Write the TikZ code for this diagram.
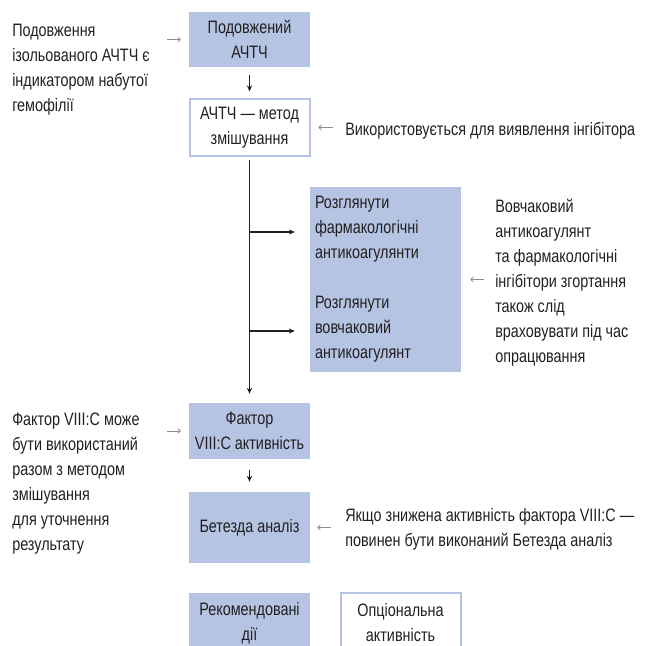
\documentclass[tikz,border=0pt]{standalone}
\usepackage{fontspec}
\setmainfont{Liberation Sans}[FakeStretch=0.8]
\usetikzlibrary{arrows.meta,calc}
\definecolor{boxblue}{RGB}{180,196,226}
\definecolor{txt}{RGB}{35,31,32}
\definecolor{garr}{RGB}{140,140,140}
\begin{document}
\begin{tikzpicture}[x=0.75pt,y=-0.75pt,
  every node/.style={font=\fontsize{13.5}{18.75}\selectfont, text=txt, inner sep=0pt},
  bluebox/.style={fill=boxblue, minimum width=121*0.75pt, align=center},
  whitebox/.style={draw=boxblue, line width=1.5pt, fill=white, align=center, minimum width=120*0.75pt},
  note/.style={align=left, anchor=north west},
  flow/.style={draw=txt, line width=1pt, -{Stealth[length=4.5pt,width=4pt]}},
  side/.style={draw=garr, line width=0.6pt, -{To[length=2.5pt,width=4pt]}}
]
\useasboundingbox (0,0) rectangle (659,645);
\clip (0,0) rectangle (659,645);

\node[bluebox, minimum height=55*0.75pt] (b1) at (249.5,39.5) {Подовжений\\АЧТЧ};
\node[whitebox, minimum height=57*0.75pt] (b2) at (249.5,127.5) {АЧТЧ — метод\\змішування};
\node[bluebox, minimum width=151*0.75pt, minimum height=185*0.75pt, text width=141*0.75pt, align=left] (b3) at (385.5,279.5)
  {Розглянути\\фармакологічні\\антикоагулянти\\[18.75pt]Розглянути\\вовчаковий\\антикоагулянт};
\node[bluebox, minimum height=56*0.75pt] (b4) at (249.5,431) {Фактор\\VIII:C активність};
\node[bluebox, minimum height=71*0.75pt] (b5) at (249.5,527.5) {Бетезда аналіз};
\node[bluebox, minimum height=60*0.75pt] (b6) at (249.5,623) {Рекомендовані\\дії};
\node[whitebox, minimum height=60*0.75pt] (b7) at (400.5,623) {Опціональна\\активність};

\node[note] (n1) at (12,24) {Подовження\\ізольованого АЧТЧ є\\індикатором набутої\\гемофілії};
\node[anchor=base west] (n2) at (345,136) {Використовується для виявлення інгібітора};
\node[note] (n3) at (495,199) {Вовчаковий\\антикоагулянт\\та фармакологічні\\інгібітори згортання\\також слід\\враховувати під час\\опрацювання};
\node[note] (n4) at (12,413) {Фактор VIII:C може\\бути використаний\\разом з методом\\змішування\\для уточнення\\результату};
\node[note] (n5) at (345,508) {Якщо знижена активність фактора VIII:C —\\повинен бути виконаний Бетезда аналіз};

\coordinate (j1) at (249.5,232);
\coordinate (j2) at (249.5,331);

\draw[flow, shorten <=6pt, shorten >=5pt] (b1) -- (b2);
\draw[flow, shorten <=2.5pt, shorten >=6.75pt] (b2) -- (b4);
\draw[flow, shorten >=11.25pt] (j1) -- (j1 -| b3.west);
\draw[flow, shorten >=11.25pt] (j2) -- (j2 -| b3.west);
\draw[flow, shorten <=8.25pt, shorten >=7.5pt] (b4) -- (b5);

\draw[side] ([xshift=-16.5pt]b1.west) -- ([xshift=-6pt]b1.west);
\draw[side] ([xshift=16.5pt]b2.east) -- ([xshift=6pt]b2.east);
\draw[side] ([xshift=17.25pt]b3.east) -- ([xshift=6.75pt]b3.east);
\draw[side] ([xshift=-16.5pt]b4.west) -- ([xshift=-6pt]b4.west);
\draw[side] ([xshift=15.75pt]b5.east) -- ([xshift=5.25pt]b5.east);
\end{tikzpicture}
\end{document}
